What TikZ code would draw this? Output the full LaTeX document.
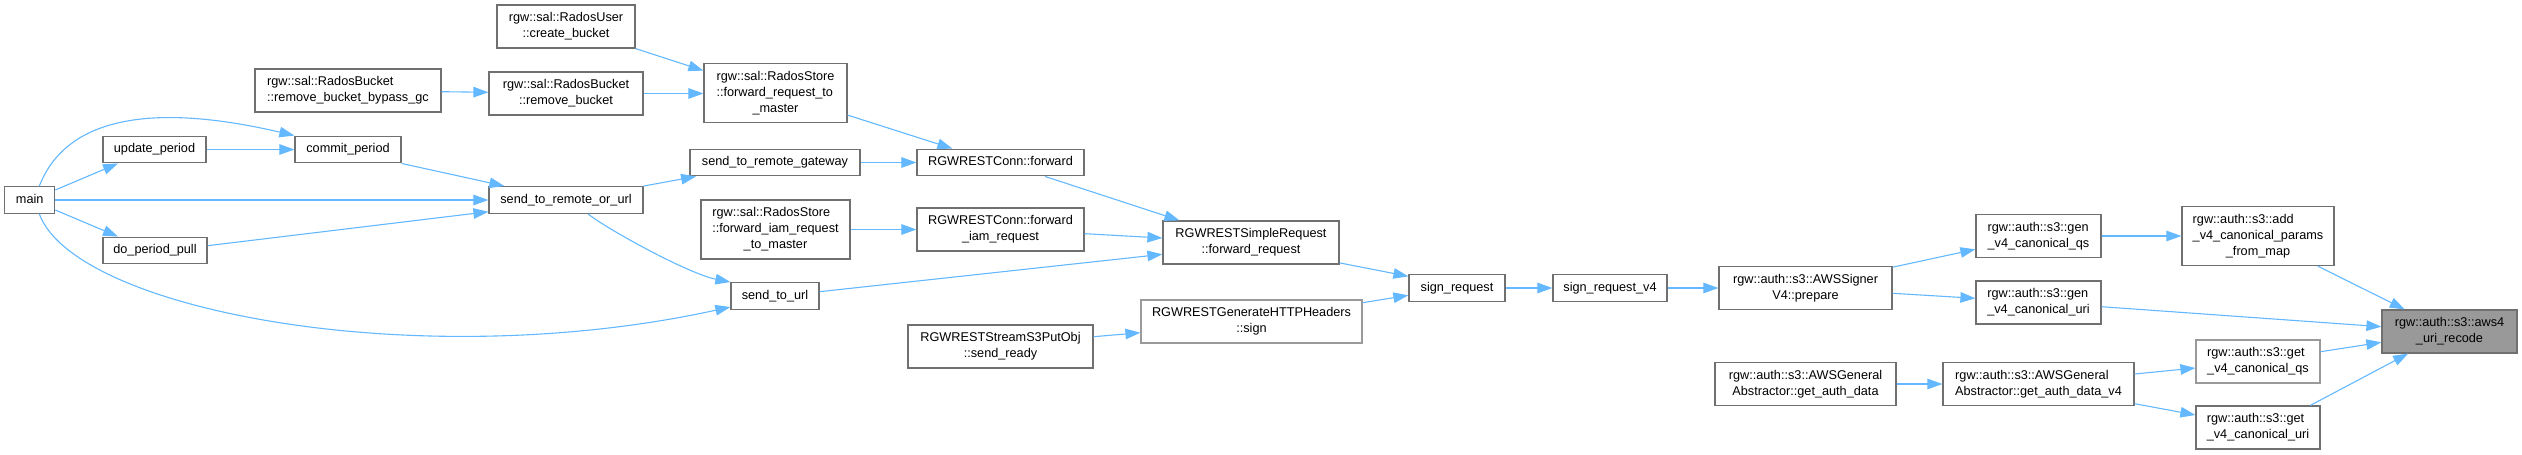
\documentclass[tikz,border=0pt]{standalone}
\usepackage{fontspec}
\setmainfont{Liberation Sans}
\usetikzlibrary{arrows.meta,calc}
\definecolor{edgeblue}{HTML}{63B8FF}
\definecolor{boxdark}{HTML}{707070}
\definecolor{boxlight}{HTML}{9A9A9A}
\definecolor{rootfill}{HTML}{999999}
\newcommand\Lone[1]{\begin{tabular}{@{}c@{}}#1\end{tabular}}
\newcommand\Ltwo[2]{\begin{tabular}{@{}l@{}}#1\\\multicolumn{1}{@{}c@{}}{#2}\end{tabular}}
\newcommand\Lthree[3]{\begin{tabular}{@{}l@{}}#1\\#2\\\multicolumn{1}{@{}c@{}}{#3}\end{tabular}}
\begin{document}
\begin{tikzpicture}[x=1pt,y=-1pt,
  fn/.style={draw=boxdark, line width=1.2pt, fill=white, inner sep=0pt, font=\fontsize{12.7}{16}\selectfont},
  fnlight/.style={fn, draw=boxlight},
  rootfn/.style={fn, fill=rootfill, draw=boxdark},
  hone/.style={minimum height=26.7pt},
  htwo/.style={minimum height=43pt},
  hthree/.style={minimum height=59pt},
  call/.style={draw=edgeblue, line width=1.1pt, -{Triangle[length=15pt,width=10.5pt]}},
]
\useasboundingbox (0,0) rectangle (2522,455);

% nodes
\node[fn,hone,minimum width=50pt] (main) at (29.7,200) {\Lone{main}};
\node[fn,hone,minimum width=103pt] (upd) at (154.5,149.5) {\Lone{update\_period}};
\node[fn,hone,minimum width=104pt] (dpp) at (155,250.5) {\Lone{do\_period\_pull}};
\node[fn,hone,minimum width=106pt] (commit) at (348,149.5) {\Lone{commit\_period}};
\node[fn,htwo,minimum width=186pt] (bypass) at (348,90.5) {\Ltwo{rgw::sal::RadosBucket}{::remove\_bucket\_bypass\_gc}};
\node[fn,htwo,minimum width=138pt] (createb) at (566,26.5) {\Ltwo{rgw::sal::RadosUser}{::create\_bucket}};
\node[fn,htwo,minimum width=154pt] (removeb) at (566,93.5) {\Ltwo{rgw::sal::RadosBucket}{::remove\_bucket}};
\node[fn,hone,minimum width=154pt] (s2rou) at (566,200) {\Lone{send\_to\_remote\_or\_url}};
\node[fn,hthree,minimum width=143pt] (fwdmaster) at (775.5,93) {\Lthree{rgw::sal::RadosStore}{::forward\_request\_to}{\_master}};
\node[fn,hone,minimum width=170pt] (gateway) at (775,162.5) {\Lone{send\_to\_remote\_gateway}};
\node[fn,hthree,minimum width=149pt] (fwdiam) at (775.5,229.5) {\Lthree{rgw::sal::RadosStore}{::forward\_iam\_request}{\_to\_master}};
\node[fn,hone,minimum width=88pt] (s2url) at (775,296) {\Lone{send\_to\_url}};
\node[fn,hone,minimum width=167pt] (connfwd) at (1000.5,162.5) {\Lone{RGWRESTConn::forward}};
\node[fn,htwo,minimum width=167pt] (conniam) at (1000.5,229.5) {\Ltwo{RGWRESTConn::forward}{\_iam\_request}};
\node[fn,htwo,minimum width=185pt] (sendready) at (1000.5,346.5) {\Ltwo{RGWRESTStreamS3PutObj}{::send\_ready}};
\node[fn,htwo,minimum width=176pt] (fwdreq) at (1251,242.5) {\Ltwo{RGWRESTSimpleRequest}{::forward\_request}};
\node[fnlight,htwo,minimum width=221pt] (gensign) at (1251.5,321.5) {\Ltwo{RGWRESTGenerateHTTPHeaders}{::sign}};
\node[fn,hone,minimum width=96pt] (signreq) at (1457,288) {\Lone{sign\_request}};
\node[fn,hone,minimum width=114pt] (signv4) at (1610,288) {\Lone{sign\_request\_v4}};
\node[fn,htwo,minimum width=173pt] (prepare) at (1805.5,288) {\Ltwo{rgw::auth::s3::AWSSigner}{V4::prepare}};
\node[fn,htwo,minimum width=181pt] (getauth) at (1805.5,384) {\Ltwo{rgw::auth::s3::AWSGeneral}{Abstractor::get\_auth\_data}};
\node[fn,htwo,minimum width=191pt] (getauthv4) at (2038.5,384) {\Ltwo{rgw::auth::s3::AWSGeneral}{Abstractor::get\_auth\_data\_v4}};
\node[fn,htwo,minimum width=125pt] (genqs) at (2038.5,236) {\Ltwo{rgw::auth::s3::gen}{\_v4\_canonical\_qs}};
\node[fn,htwo,minimum width=125pt] (genuri) at (2038.5,302.5) {\Ltwo{rgw::auth::s3::gen}{\_v4\_canonical\_uri}};
\node[fn,hthree,minimum width=152pt] (addparams) at (2258,236) {\Lthree{rgw::auth::s3::add}{\_v4\_canonical\_params}{\_from\_map}};
\node[rootfn,htwo,minimum width=135pt] (aws4) at (2449.5,331.5) {\Ltwo{rgw::auth::s3::aws4}{\_uri\_recode}};
\node[fnlight,htwo,minimum width=124pt] (getqs) at (2258,361.5) {\Ltwo{rgw::auth::s3::get}{\_v4\_canonical\_qs}};
\node[fn,htwo,minimum width=124pt] (geturi) at (2258,427.5) {\Ltwo{rgw::auth::s3::get}{\_v4\_canonical\_uri}};

% connectors
\draw[call] ($(main.east)+(0,-10)$) -- ($(upd.south)+(-36.5,0)$);
\draw[call] ($(main.north)+(9.6,0)$) .. controls +(31,-79) and +(-120,-28) .. (commit.north west);
\draw[call] (main.east) -- (main.east -| s2rou.west);
\draw[call] ($(main.east)+(0,10)$) -- ($(dpp.north)+(-37,0)$);
\draw[call] ($(main.south)+(9.6,0)$) .. controls +(36,97) and +(-311,68) .. ($(s2url.west)+(0,11)$);
\draw[call] (upd.east) -- (commit.west);
\draw[call] (commit.south east) -- ($(s2rou.north west)+(16,0)$);
\draw[call] ($(dpp.east)+(0,-4.8)$) -- ($(s2rou.west)+(0,11.7)$);
\draw[call] ($(bypass.east)+(0,1.2)$) -- ($(removeb.west)+(0,-1.2)$);
\draw[call] (createb.south east) -- ($(fwdmaster.north west)+(0,7.7)$);
\draw[call] (removeb.east) -- (removeb.east -| fwdmaster.west);
\draw[call] (s2rou.north east) -- ($(gateway.south west)+(6.7,0)$);
\draw[call] ($(s2rou.south)+(22,0)$) .. controls +(22,17) and +(-41,-8) .. (s2url.north west);
\draw[call] ($(fwdmaster.south east)+(0,-8)$) -- ($(connfwd.north west)+(36,0)$);
\draw[call] (gateway.east) -- (connfwd.west);
\draw[call] (fwdiam.east) -- (conniam.west);
\draw[call] ($(connfwd.south)+(44.5,0)$) -- ($(fwdreq.north west)+(17,0)$);
\draw[call] ($(conniam.east)+(0,4.2)$) -- ($(fwdreq.west)+(0,-4.5)$);
\draw[call] ($(s2url.east)+(0,-4.3)$) -- ($(fwdreq.west)+(0,11.8)$);
\draw[call] ($(sendready.east)+(0,-9.8)$) -- ($(gensign.west)+(0,11.2)$);
\draw[call] ($(fwdreq.south east)+(0,-1.7)$) -- ($(signreq.north west)+(0,2.3)$);
\draw[call] ($(gensign.north east)+(0,3.3)$) -- ($(signreq.west)+(0,7.3)$);
\draw[call] (signreq.east) -- (signv4.west);
\draw[call] (signv4.east) -- (prepare.west);
\draw[call] ($(prepare.north east)+(0,1.3)$) -- ($(genqs.west)+(0,13.3)$);
\draw[call] ($(prepare.east)+(0,5.3)$) -- ($(genuri.west)+(0,-4.2)$);
\draw[call] (genqs.east) -- (addparams.west);
\draw[call] ($(addparams.south)+(59.7,0)$) -- ($(aws4.north west)+(23.3,0)$);
\draw[call] ($(genuri.east)+(0,4.2)$) -- ($(aws4.west)+(0,-4.8)$);
\draw[call] (getauth.east) -- (getauthv4.west);
\draw[call] ($(getauthv4.east)+(0,-10)$) -- ($(getqs.west)+(0,6.5)$);
\draw[call] ($(getauthv4.east)+(0,19.7)$) -- ($(geturi.west)+(0,-12.5)$);
\draw[call] ($(getqs.east)+(0,-9.8)$) -- ($(aws4.west)+(0,10.8)$);
\draw[call] ($(geturi.north)+(52.3,0)$) -- ($(aws4.south west)+(26.7,0)$);
\end{tikzpicture}
\end{document}
